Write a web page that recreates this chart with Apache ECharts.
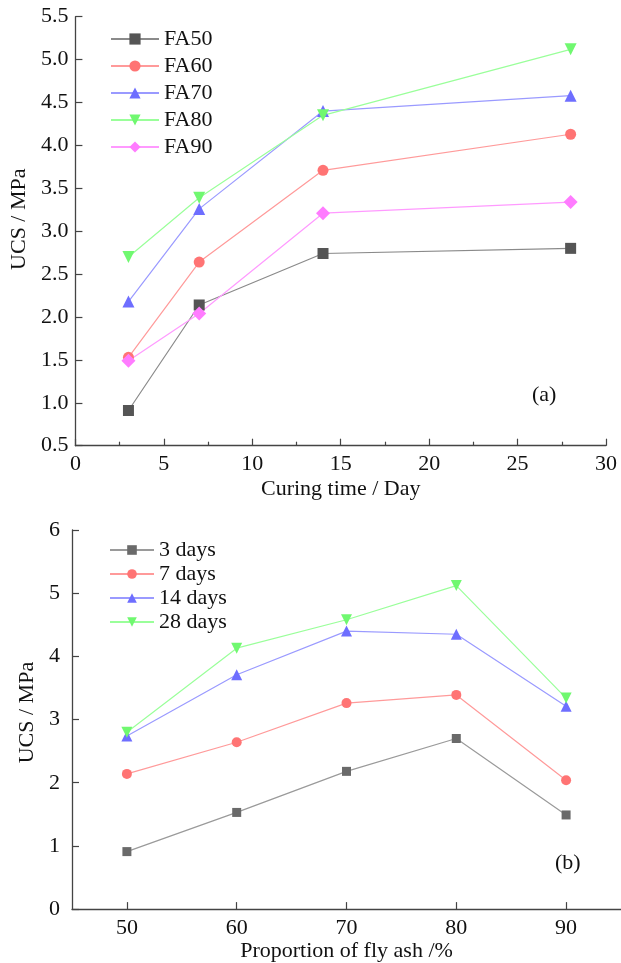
<!DOCTYPE html>
<html>
<head>
<meta charset="utf-8">
<script src="https://cdn.jsdelivr.net/npm/echarts@6/dist/echarts.min.js"></script>
<style>
  html, body { margin: 0; padding: 0; background: #fff; }
  #chart { width: 621px; height: 963px; }
</style>
</head>
<body>
<div id="chart"></div>
<script>
// Curing times (days) and fly-ash proportions (%)
const curingDays = [3, 7, 14, 28];
const flyAshLevels = ['50', '60', '70', '80', '90'];

// UCS (MPa) per mix, one value per curing time
const fa50 = [0.91, 2.14, 2.74, 2.80];
const fa60 = [1.53, 2.64, 3.71, 4.13];
const fa70 = [2.18, 3.26, 4.40, 4.58];
const fa80 = [2.70, 3.39, 4.35, 5.12];
const fa90 = [1.49, 2.04, 3.21, 3.34];

const mixNames = ['FA50', 'FA60', 'FA70', 'FA80', 'FA90'];
const dayNames = ['3 days', '7 days', '14 days', '28 days'];

const FONT = '"Liberation Serif", "Times New Roman", serif';
const FS = 22;
const AXIS_COLOR = '#444';
const DOWN_TRIANGLE = 'path://M0,0 L10,0 L5,9 Z';

const mixes = [fa50, fa60, fa70, fa80, fa90];
const mixStyles = [
  { line: '#8a8a8a', mark: '#555555', symbol: 'rect', size: 11 },
  { line: '#ff9a9a', mark: '#ff7474', symbol: 'circle', size: 11 },
  { line: '#9a9aff', mark: '#6e6eff', symbol: 'triangle', size: 12 },
  { line: '#9aff9a', mark: '#70f870', symbol: DOWN_TRIANGLE, size: 12 },
  { line: '#ff9aff', mark: '#ff7cff', symbol: 'diamond', size: 14 }
];
const dayStyles = [
  { line: '#9a9a9a', mark: '#6a6a6a', symbol: 'rect', size: 9 },
  { line: '#ff9a9a', mark: '#ff7474', symbol: 'circle', size: 10 },
  { line: '#9a9aff', mark: '#6e6eff', symbol: 'triangle', size: 11 },
  { line: '#9aff9a', mark: '#70f870', symbol: DOWN_TRIANGLE, size: 11 }
];

const textStyle = { fontFamily: FONT, fontSize: FS, color: '#111' };

function axisCommon() {
  return {
    axisLine: { show: true, lineStyle: { color: AXIS_COLOR, width: 1.3 } },
    axisTick: { show: true, inside: true, length: 7, lineStyle: { color: AXIS_COLOR, width: 1.2 } },
    splitLine: { show: false },
    axisLabel: Object.assign({}, textStyle),
    nameTextStyle: Object.assign({}, textStyle)
  };
}

// Panel (a): UCS against curing time, one line per mix
const seriesA = mixes.map((vals, i) => ({
  name: mixNames[i],
  type: 'line',
  xAxisIndex: 0,
  yAxisIndex: 0,
  data: curingDays.map((d, k) => [d, vals[k]]),
  symbol: mixStyles[i].symbol,
  symbolSize: mixStyles[i].size,
  lineStyle: { color: mixStyles[i].line, width: 1.2 },
  itemStyle: { color: mixStyles[i].mark },
  emphasis: { disabled: true },
  animation: false
}));

// Panel (b): UCS against fly-ash proportion, one line per curing time
const seriesB = dayNames.map((name, k) => ({
  name: name,
  type: 'line',
  xAxisIndex: 1,
  yAxisIndex: 1,
  data: mixes.map(vals => vals[k]),
  symbol: dayStyles[k].symbol,
  symbolSize: dayStyles[k].size,
  lineStyle: { color: dayStyles[k].line, width: 1.2 },
  itemStyle: { color: dayStyles[k].mark },
  emphasis: { disabled: true },
  animation: false
}));

const chart = echarts.init(document.getElementById('chart'), null, { renderer: 'canvas' });

chart.setOption({
  backgroundColor: '#fff',
  animation: false,
  grid: [
    { left: 73.3, top: 16.7, width: 532.7, height: 429 },
    { left: 72, top: 530, width: 555, height: 380 }
  ],
  xAxis: [
    Object.assign(axisCommon(), {
      gridIndex: 0,
      type: 'value',
      min: 0, max: 30, interval: 5,
      name: 'Curing time / Day',
      nameLocation: 'middle',
      nameGap: 33,
      minorTick: { show: true, splitNumber: 2, length: 4, lineStyle: { color: AXIS_COLOR, width: 1.2 } },
      axisLabel: Object.assign({}, textStyle, { margin: 8 })
    }),
    Object.assign(axisCommon(), {
      gridIndex: 1,
      type: 'category',
      data: flyAshLevels,
      boundaryGap: true,
      name: 'Proportion of fly ash /%',
      nameLocation: 'middle',
      nameGap: 26,
      axisTick: { show: true, inside: true, alignWithLabel: true, length: 7, lineStyle: { color: AXIS_COLOR, width: 1.2 } },
      axisLabel: Object.assign({}, textStyle, { margin: 8 })
    })
  ],
  yAxis: [
    Object.assign(axisCommon(), {
      gridIndex: 0,
      type: 'value',
      min: 0.5, max: 5.5, interval: 0.5,
      name: 'UCS / MPa',
      nameLocation: 'middle',
      nameGap: 42,
      nameTextStyle: Object.assign({}, textStyle, { padding: [0, 0, 0, 24] }),
      axisLabel: Object.assign({}, textStyle, { margin: 7, formatter: v => v.toFixed(1) })
    }),
    Object.assign(axisCommon(), {
      gridIndex: 1,
      type: 'value',
      min: 0, max: 6, interval: 1,
      name: 'UCS / MPa',
      nameLocation: 'middle',
      nameGap: 27,
      nameTextStyle: Object.assign({}, textStyle, { padding: [0, 0, 0, 14] }),
      axisLabel: Object.assign({}, textStyle, { margin: 12 })
    })
  ],
  legend: [
    {
      data: mixNames,
      orient: 'vertical',
      left: 105, top: 23,
      itemWidth: 48, itemHeight: 14,
      itemGap: 5,
      textStyle: Object.assign({}, textStyle, { lineHeight: 22 }),
      selectedMode: false
    },
    {
      data: dayNames,
      orient: 'vertical',
      left: 104, top: 534,
      itemWidth: 44, itemHeight: 12,
      itemGap: 2,
      textStyle: Object.assign({}, textStyle, { lineHeight: 22 }),
      selectedMode: false
    }
  ],
  graphic: [
    { type: 'text', left: 532, top: 384, style: { text: '(a)', font: FS + 'px ' + FONT, fill: '#111' } },
    { type: 'text', left: 555, top: 852, style: { text: '(b)', font: FS + 'px ' + FONT, fill: '#111' } }
  ],
  series: seriesA.concat(seriesB)
});
</script>
</body>
</html>
